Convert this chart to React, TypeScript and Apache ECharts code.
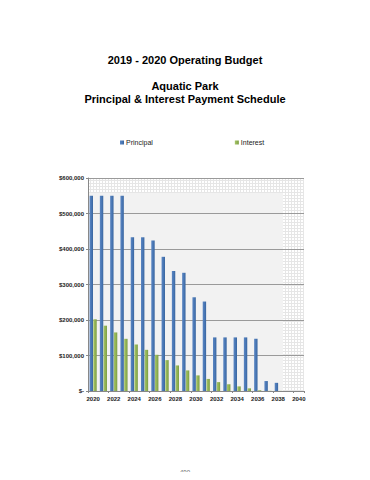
import React, { useEffect, useRef } from "react";
import * as echarts from "echarts";

const years = ["2020","2021","2022","2023","2024","2025","2026","2027","2028","2029","2030","2031","2032","2033","2034","2035","2036","2037","2038","2039","2040"];
const principal = [550000,550000,550000,550000,433000,433000,424000,378000,338000,333000,264000,252000,151000,151000,151000,151000,147000,28000,23000,0,0];
const interest = [202000,184000,165000,147000,131000,116000,102000,87000,72000,58000,44000,34000,25000,19000,13000,7500,2000,500,300,0,0];
const seriesNames = ["Principal", "Interest"];
const titleLines = ["2019 - 2020 Operating Budget", "Aquatic Park", "Principal & Interest Payment Schedule"];
const pageNumber = "490";

function makePattern() {
  const c = document.createElement("canvas");
  c.width = 3; c.height = 3;
  const ctx = c.getContext("2d")!;
  ctx.fillStyle = "#ffffff";
  ctx.fillRect(0, 0, 3, 3);
  ctx.fillStyle = "#e6e6e6";
  ctx.fillRect(0, 0, 3, 1);
  ctx.fillRect(0, 0, 1, 3);
  return c;
}

export default function App() {
  const ref = useRef<HTMLDivElement>(null);
  useEffect(() => {
    const chart = echarts.init(ref.current!, null, { renderer: "svg" });
    const pattern = { image: makePattern(), repeat: "repeat" };
    const L = 88, T = 178, R = 304, B = 391;
    const font = "Liberation Sans, Arial, sans-serif";
    chart.setOption({
      animation: false,
      backgroundColor: "#ffffff",
      textStyle: { fontFamily: font },
      title: [
        { text: titleLines[0], left: "center", top: 49, textStyle: { fontSize: 11, fontWeight: "bold", color: "#000", fontFamily: font } },
        { text: titleLines[1], left: "center", top: 75, textStyle: { fontSize: 11, fontWeight: "bold", color: "#000", fontFamily: font } },
        { text: titleLines[2], left: "center", top: 88, textStyle: { fontSize: 11, fontWeight: "bold", color: "#000", fontFamily: font } },
      ],
      legend: {
        data: seriesNames,
        left: 115,
        top: 134,
        itemWidth: 4,
        itemHeight: 4,
        itemGap: 82,
        icon: "rect",
        textStyle: { fontSize: 7, color: "#222", padding: [0, 0, 0, -3] },
      },
      grid: { left: L, right: 370 - R, top: T, bottom: 480 - B, containLabel: false },
      graphic: [
        { type: "rect", shape: { x: L, y: T, width: R - L, height: B - T }, style: { fill: pattern }, z: -2, silent: true },
        { type: "rect", shape: { x: L, y: T + 15, width: 283 - L, height: B - T - 15 }, style: { fill: "#f2f2f2" }, z: -1, silent: true },
        { type: "text", x: 185, y: 472, style: { text: pageNumber, fontSize: 6, fill: "#666", align: "center", verticalAlign: "middle", fontFamily: font } },
      ],
      xAxis: {
        type: "category",
        data: years,
        boundaryGap: true,
        axisLine: { lineStyle: { color: "#888", width: 1 } },
        axisTick: { show: true, interval: 1, length: 2, lineStyle: { color: "#888" } },
        axisLabel: { interval: 1, fontSize: 6, fontWeight: "bold", color: "#222", margin: 5 },
        splitLine: { show: false },
      },
      yAxis: {
        type: "value",
        min: 0,
        max: 600000,
        interval: 100000,
        axisLine: { show: true, lineStyle: { color: "#888", width: 1 } },
        axisTick: { show: true, length: 2, lineStyle: { color: "#888" } },
        axisLabel: {
          fontSize: 6,
          fontWeight: "bold",
          color: "#222",
          margin: 4,
          formatter: (v: number) => (v === 0 ? "$-" : "$" + v.toLocaleString("en-US")),
        },
        splitLine: { show: true, lineStyle: { color: "#9a9a9a", width: 1 } },
      },
      series: [
        {
          name: seriesNames[0],
          type: "bar",
          data: principal,
          barWidth: 3.4,
          barGap: "10%",
          itemStyle: {
            color: new echarts.graphic.LinearGradient(0, 0, 1, 0, [
              { offset: 0, color: "#5b86c2" },
              { offset: 0.5, color: "#4a78b6" },
              { offset: 1, color: "#3a669f" },
            ]),
          },
        },
        {
          name: seriesNames[1],
          type: "bar",
          data: interest,
          barWidth: 3.4,
          itemStyle: {
            color: new echarts.graphic.LinearGradient(0, 0, 1, 0, [
              { offset: 0, color: "#a6c46a" },
              { offset: 0.5, color: "#92b454" },
              { offset: 1, color: "#7d9d45" },
            ]),
          },
        },
      ],
    });
    return () => chart.dispose();
  }, []);
  return <div ref={ref} style={{ width: 370, height: 480, margin: -8 }} />;
}
